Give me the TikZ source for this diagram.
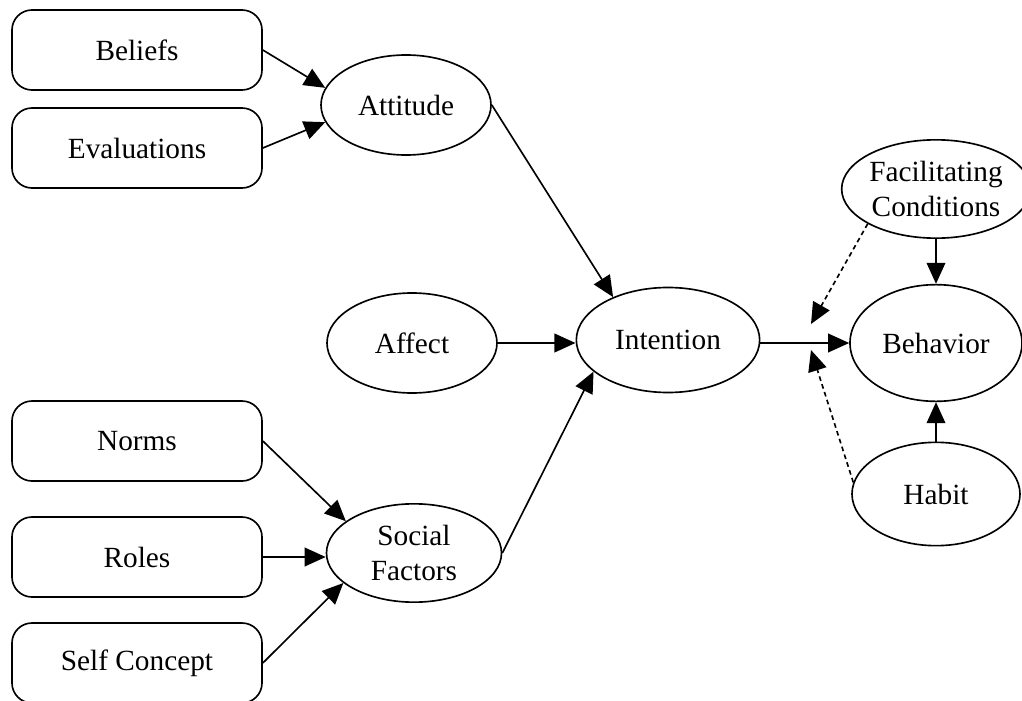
\documentclass[tikz,border=0pt]{standalone}
\usepackage{fontspec}
\setmainfont{Liberation Serif}
\usetikzlibrary{arrows.meta,shapes.geometric}
\begin{document}
\begin{tikzpicture}[x=0.03cm,y=0.03cm,line width=1.4pt,
  >={Triangle[length=18pt,width=16pt]},
  every node/.style={draw,font=\fontsize{25pt}{30pt}\selectfont,align=center,inner sep=0pt},
  box/.style={rectangle,rounded corners=0.6cm,minimum width=7.5cm,minimum height=2.4cm},
  oval/.style={ellipse,minimum width=5.1cm,minimum height=3cm}]
\useasboundingbox (0,0) rectangle (1022,-701);
\node[box] (bel) at (137,-50) {Beliefs};
\node[box] (eva) at (137,-148) {Evaluations};
\node[box] (nor) at (137,-441) {Norms};
\node[box] (rol) at (137,-557) {Roles};
\node[box] (sel) at (137,-663) {Self Concept};
\node[oval] (att) at (406,-105) {Attitude};
\node[oval] (aff) at (412,-343) {Affect};
\node[oval,minimum width=5.5cm,minimum height=3.15cm] (int) at (668,-340) {Intention};
\node[oval,minimum width=5.25cm,minimum height=2.95cm] (soc) at (414,-553) {Social\\Factors};
\node[oval,minimum width=4.95cm,minimum height=2.95cm] (fac) at (936,-189) {Facilitating\\Conditions};
\node[oval,minimum width=5.16cm,minimum height=3.5cm] (beh) at (936,-343) {Behavior};
\node[oval,minimum width=5.04cm,minimum height=3.1cm] (hab) at (936,-494) {Habit};
\coordinate (fcend) at (811,-324);
\coordinate (hbend) at (811,-350);
\draw[->] (bel.east) -- (att.168);
\draw[->] (eva.east) -- (att.192);
\draw[->] (att.east) -- (int.142);
\draw[->] (aff.east) -- (int.west |- aff.east);
\draw[->] (soc.east) -- (int.203);
\draw[->] (nor.east) -- (soc.155);
\draw[->] (rol.east) -- (soc.west |- rol.east);
\draw[->] (sel.east) -- (soc.203);
\draw[->] (int.east |- beh.west) -- (beh.west);
\draw[->] (fac.south) -- (beh.north);
\draw[->] (hab.north) -- (beh.south);
\draw[->,dash pattern=on 4pt off 3pt] (fac.207) -- (fcend);
\draw[->,dash pattern=on 4pt off 3pt] (hab.172) -- (hbend);
\end{tikzpicture}
\end{document}
